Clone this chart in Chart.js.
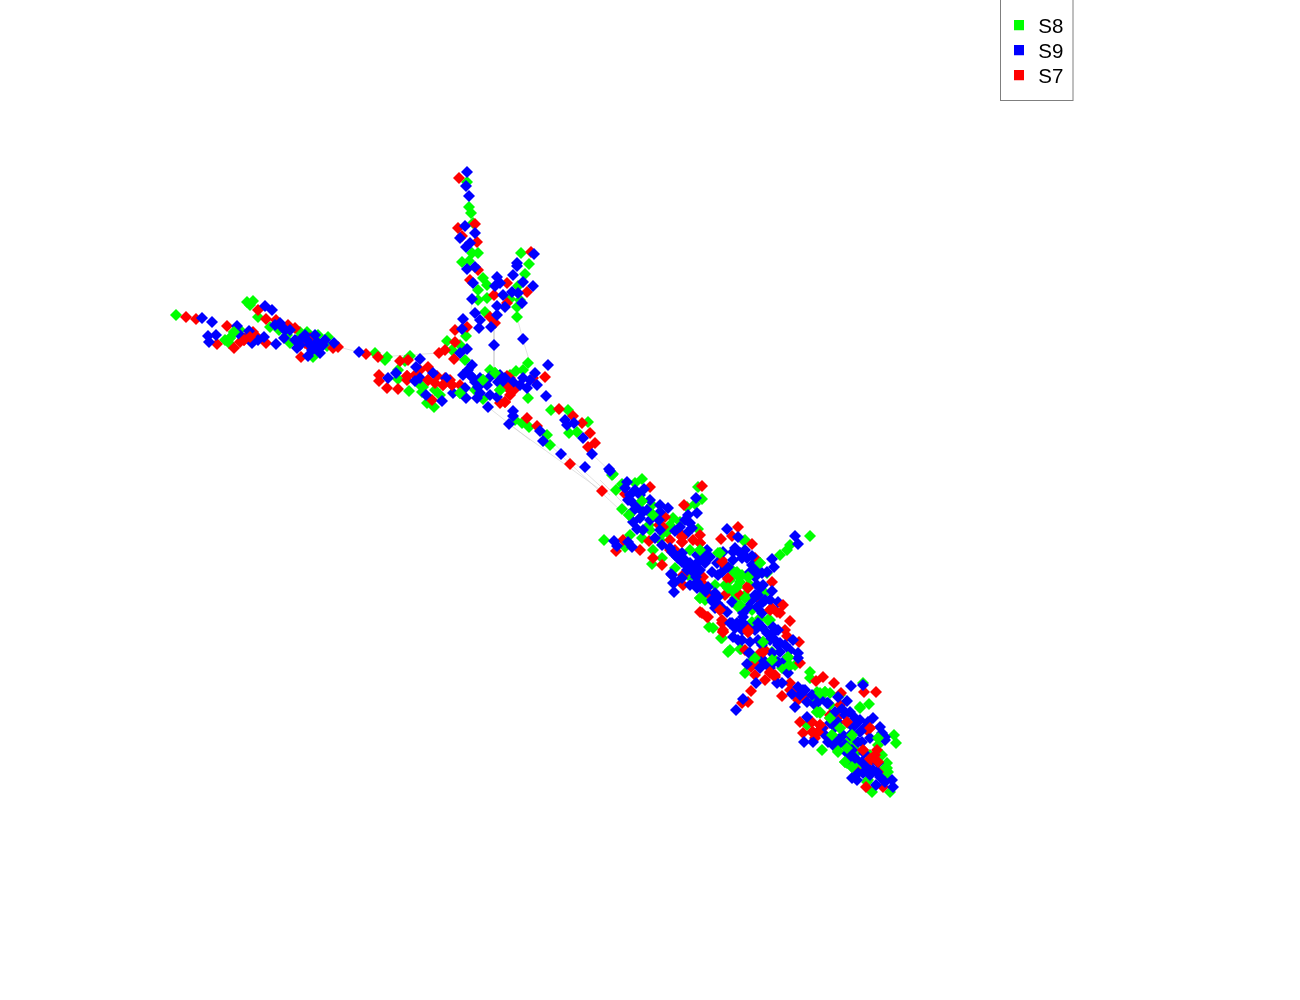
<!DOCTYPE html>
<html><head><meta charset="utf-8">
<style>html,body{margin:0;padding:0;background:#fff}canvas{display:block}</style>
<script src="https://cdn.jsdelivr.net/npm/chart.js@4"></script>
</head><body><canvas id="c" width="1300" height="1000"></canvas>
<script>
const seriesNames=["S8","S9","S7"];
const s8=[[176,315],[234,332],[230,338],[229,343],[247,302],[250,305],[253,301],[258,317],[270,327],[279,330],[287,335],[290,343],[300,332],[307,332],[318,335],[328,337],[327,346],[313,357],[375,353],[387,357],[410,356],[405,361],[398,370],[398,379],[409,391],[423,387],[422,392],[435,390],[427,403],[434,407],[460,393],[483,399],[483,380],[495,373],[500,390],[516,371],[523,370],[528,363],[528,398],[447,341],[466,336],[452,350],[465,360],[485,312],[517,317],[483,278],[487,285],[478,290],[487,298],[510,299],[518,286],[517,307],[525,274],[529,264],[521,253],[467,182],[469,207],[471,213],[473,223],[472,253],[478,253],[462,262],[469,261],[551,410],[568,410],[588,422],[569,433],[577,432],[515,420],[522,423],[529,427],[547,435],[550,445],[613,474],[616,490],[612,475],[622,484],[635,483],[642,479],[622,509],[629,515],[642,501],[652,505],[653,515],[649,525],[630,535],[642,538],[604,540],[625,547],[653,550],[652,564],[662,558],[698,487],[702,499],[687,507],[695,504],[698,529],[673,518],[667,532],[680,522],[690,550],[675,568],[688,575],[700,598],[744,541],[718,553],[760,563],[767,573],[810,536],[790,545],[787,550],[780,555],[725,585],[737,572],[748,577],[733,592],[740,582],[765,593],[738,607],[709,627],[721,638],[728,652],[741,649],[752,622],[770,620],[753,660],[772,652],[788,658],[789,667],[745,673],[810,672],[810,678],[817,692],[825,692],[863,683],[869,704],[860,708],[807,725],[822,750],[820,713],[832,735],[840,728],[838,752],[848,723],[853,740],[850,747],[847,763],[857,752],[878,738],[878,745],[894,735],[896,743],[860,770],[867,782],[872,792],[887,763],[888,772],[887,778],[890,792],
[663,533],[745,540],[700,550],[720,553],[735,573],[737,587],[728,588],[692,575],[740,605],[768,620],[713,628],[722,638],[730,650],[740,649],[763,642],[788,657],[789,665],[755,658],[817,712],[830,693],[852,735],[847,748],[845,762],[852,767],[885,768],[868,780],
[730,580],[735,598],[745,595],[750,585],[742,575],[730,568],[752,610],[760,618],[775,660],[782,668],[795,665],[815,700],[830,705],[840,695],[850,740],[842,742],[855,745],[858,765],[870,755],[882,755],[880,775],[715,585],[705,600],[660,540],[670,525],[660,515],[650,530],[440,395],[475,390],[490,370],[510,375],[460,345],[478,300],[520,300],[300,337],[240,330],[225,340],[385,360],[420,385]];
const s8Over=[[700,598],[737,587],[748,577],[735,573],[720,553],[700,550],[760,563],[728,588],[768,620],[740,605],[788,657],[789,665],[763,642],[772,660],[755,658],[820,693],[817,712],[825,692],[832,735],[840,728],[852,735],[847,748],[838,751],[845,762],[852,767],[878,738],[887,768],[820,712],[830,718],[860,707],[483,380],[500,390],[495,373],[460,393],[234,332],[230,338],[737,575],[745,598],[653,515],[642,501],[629,515]];
const s9=[[202,318],[212,322],[237,326],[208,336],[216,335],[209,342],[252,343],[249,331],[264,337],[276,344],[265,306],[272,310],[280,323],[282,327],[290,330],[284,338],[297,348],[300,340],[307,340],[317,342],[323,345],[315,348],[320,353],[308,356],[334,343],[359,352],[420,359],[416,367],[388,378],[396,373],[415,381],[420,378],[433,373],[446,378],[426,395],[442,401],[453,393],[465,388],[466,398],[477,398],[488,407],[490,395],[497,397],[468,370],[472,377],[475,382],[478,387],[490,377],[498,382],[503,383],[513,382],[548,365],[535,373],[523,378],[537,385],[527,388],[546,396],[462,329],[463,319],[460,353],[467,349],[475,313],[480,320],[479,328],[491,327],[497,315],[494,345],[523,339],[472,299],[473,283],[497,277],[495,286],[500,283],[497,306],[505,307],[503,295],[512,292],[518,293],[523,282],[533,286],[522,303],[513,275],[517,263],[517,266],[534,254],[467,172],[466,186],[469,196],[465,226],[460,238],[475,233],[470,243],[466,247],[467,269],[475,267],[565,420],[567,425],[574,423],[583,438],[592,454],[561,454],[585,467],[609,469],[513,411],[513,416],[509,424],[540,431],[543,441],[610,471],[627,482],[644,489],[630,495],[633,503],[638,507],[647,510],[650,500],[660,505],[668,508],[660,512],[659,520],[633,522],[637,529],[643,530],[655,538],[614,541],[617,546],[628,542],[632,547],[662,545],[670,548],[696,498],[688,515],[697,513],[685,520],[690,523],[675,531],[687,533],[678,558],[685,560],[690,563],[693,568],[682,553],[697,555],[707,550],[710,557],[705,563],[671,574],[673,583],[674,592],[682,578],[696,577],[690,585],[697,588],[705,592],[727,529],[738,537],[723,552],[733,552],[740,553],[747,558],[752,565],[733,560],[728,567],[772,559],[774,567],[762,573],[717,563],[795,536],[798,544],[718,575],[755,577],[715,593],[712,600],[717,603],[763,585],[772,591],[755,595],[757,607],[778,602],[762,613],[748,607],[743,617],[727,612],[715,608],[730,623],[733,637],[750,642],[742,630],[742,640],[758,623],[767,633],[773,633],[762,627],[793,640],[798,653],[780,643],[780,652],[749,653],[765,662],[778,662],[747,664],[788,673],[756,683],[777,683],[782,683],[792,694],[798,687],[803,690],[807,702],[820,700],[827,703],[838,697],[847,701],[851,686],[863,685],[842,709],[873,718],[743,699],[736,710],[807,717],[804,742],[813,742],[828,742],[833,745],[835,727],[853,727],[860,720],[865,727],[860,732],[838,740],[847,753],[852,760],[864,753],[882,733],[885,740],[867,767],[852,778],[857,780],[863,773],[876,785],[873,770],[878,763],[880,777],[892,780],[893,787],
[672,552],[677,557],[682,562],[688,567],[693,572],[703,557],[698,562],[742,558],[750,572],[725,567],[672,575],[675,582],[687,570],[697,582],[702,588],[708,587],[713,602],[718,597],[722,608],[732,602],[743,613],[760,588],[767,572],[763,602],[758,595],[773,627],[747,627],[737,623],[778,630],[732,623],[742,628],[750,653],[778,645],[763,660],[772,653],[798,658],[773,663],[805,690],[795,707],[828,703],[820,698],[830,723],[838,722],[855,718],[880,727],[885,737],[845,745],[858,742],[852,750],[850,760],[858,773],[877,772],[628,500],[643,512],[680,557],[675,555],[838,745],
[700,570],[712,572],[722,572],[735,548],[745,550],[752,556],[757,570],[757,585],[765,600],[770,600],[752,600],[742,622],[735,628],[738,640],[755,630],[758,640],[762,645],[770,640],[775,640],[785,645],[790,650],[785,660],[770,668],[760,668],[800,695],[812,695],[815,705],[835,712],[845,715],[850,712],[855,725],[850,735],[843,735],[825,735],[822,728],[868,722],[870,738],[862,742],[855,758],[862,762],[870,775],[885,782],[660,530],[650,520],[640,518],[632,512],[625,488],[635,490],[640,495],[692,528],[680,527],[470,375],[480,378],[487,385],[480,393],[500,375],[505,378],[510,385],[520,385],[530,380],[472,365],[463,375],[300,345],[295,340],[310,345],[305,335],[312,350],[325,340],[315,335],[285,330],[275,325],[258,340],[240,335]];
const s7=[[186,317],[196,319],[227,326],[217,344],[234,348],[244,340],[250,337],[253,332],[258,310],[266,319],[266,343],[276,320],[288,325],[295,328],[310,338],[310,347],[301,357],[333,348],[338,347],[366,354],[378,357],[400,361],[408,360],[379,375],[379,381],[407,376],[407,380],[387,388],[398,389],[428,367],[428,380],[437,376],[443,385],[452,385],[432,400],[500,403],[505,402],[507,376],[508,388],[514,390],[533,378],[545,377],[455,330],[467,327],[455,342],[439,353],[445,350],[454,359],[490,317],[495,323],[470,280],[507,283],[494,295],[507,303],[527,292],[531,252],[459,178],[475,224],[458,228],[462,236],[477,242],[478,270],[559,409],[573,416],[582,423],[590,433],[595,443],[588,447],[570,464],[602,491],[527,418],[537,426],[650,487],[625,494],[659,525],[649,541],[616,551],[623,540],[640,550],[653,558],[662,565],[702,486],[684,505],[663,527],[700,535],[682,535],[682,542],[700,543],[675,550],[670,550],[683,585],[703,577],[702,583],[738,527],[721,539],[732,536],[752,544],[722,560],[755,558],[728,578],[725,595],[747,587],[772,582],[772,608],[780,613],[790,621],[722,620],[700,612],[707,617],[723,630],[748,632],[787,636],[799,642],[765,650],[760,653],[800,663],[751,667],[770,673],[775,677],[765,680],[751,691],[790,683],[782,696],[798,700],[823,677],[816,681],[834,683],[841,693],[864,692],[876,692],[748,702],[742,703],[800,722],[803,733],[813,732],[820,725],[823,728],[838,717],[867,730],[872,760],[878,772],[866,787],[883,787],
[682,537],[683,575],[710,595],[720,610],[702,613],[708,617],[777,612],[770,610],[722,623],[763,652],[755,675],[840,705],[847,722],[818,732],[870,728],[863,750],[877,750],[870,759],[878,762],[858,772],[665,517],[820,730],
[670,540],[693,540],[740,595],[760,600],[785,630],[745,650],[757,662],[790,690],[795,695],[805,697],[830,715],[812,722],[815,738],[830,718],[875,755],[240,342],[248,335],[255,335],[305,343],[415,375],[420,370],[450,380],[460,385],[445,378],[435,383],[510,378],[510,395]];
const s7Over=[[682,537],[722,562],[728,579],[748,588],[720,610],[723,632],[770,610],[748,630],[763,652],[775,675],[770,672],[748,632],[723,632],[820,725],[818,732],[870,728],[870,759],[878,762],[863,750],[812,732],[847,722],[428,380],[443,385],[452,385],[407,376],[508,388],[505,402],[250,337],[244,340],[700,543],[682,542],[783,605]];
const edgeLinks=[[494,330,494,378],[517,317,523,340],[523,340,530,363],[472,299,471,310],[338,347,359,352],[378,357,439,353],[510,425,602,491],[540,431,610,495],[550,445,620,510],[592,454,613,474],[488,407,530,440],[600,480,625,505]];

const toPts=a=>a.map(p=>({x:p[0],y:p[1]}));
const edgePts=[];
edgeLinks.forEach(e=>{edgePts.push({x:e[0],y:e[1]},{x:e[2],y:e[3]},{x:e[2],y:NaN});});
const mk=(label,data,color,order)=>({label,data:toPts(data),backgroundColor:color,borderColor:color,pointStyle:"rectRot",pointRadius:6,pointBorderWidth:0,pointHoverRadius:6,order});
const icon=color=>{const k=document.createElement("canvas");k.width=10;k.height=14;const g=k.getContext("2d");g.fillStyle=color;g.fillRect(0,0,10,10);return k;};

const frame={id:"legendFrame",
 afterLayout(chart){const l=chart.legend;l.left=1005.5;l.top=12.5;l.right=1073;l.bottom=100;l.width=67.5;l.height=87.5;},
 afterDraw(chart){const c=chart.ctx;c.save();c.strokeStyle="#7f7f7f";c.lineWidth=1;c.strokeRect(1000.5,-2,72.5,102.5);c.restore();}};

new Chart(document.getElementById("c"),{type:"scatter",
 data:{datasets:[mk("S8",s8,"#00ff00",2),mk("S9",s9,"#0000ff",0),mk("S7",s7,"#ff0000",1),
  {label:"edges",data:edgePts,showLine:true,pointRadius:0,borderColor:"rgba(205,205,205,0.6)",borderWidth:1,order:3,spanGaps:false},
  mk("S8 upper",s8Over,"#00ff00",-2),mk("S7 upper",s7Over,"#ff0000",-1)]},
 options:{responsive:false,animation:false,layout:{padding:0,autoPadding:false},
  scales:{x:{type:"linear",display:false,min:0,max:1300},y:{type:"linear",display:false,min:0,max:1000,reverse:true}},
  plugins:{tooltip:{enabled:false},title:{display:false},
   legend:{display:true,position:"chartArea",align:"start",
    labels:{usePointStyle:true,boxWidth:18,boxHeight:10,padding:4.5,color:"#000",font:{family:"'Liberation Sans',Arial,sans-serif",size:20.5},
     generateLabels:chart=>Chart.defaults.plugins.legend.labels.generateLabels(chart).map(i=>({...i,pointStyle:icon(i.fillStyle)})),
     filter:i=>seriesNames.includes(i.text),sort:(a,b)=>seriesNames.indexOf(a.text)-seriesNames.indexOf(b.text)}}}},
 plugins:[frame]});
</script></body></html>
